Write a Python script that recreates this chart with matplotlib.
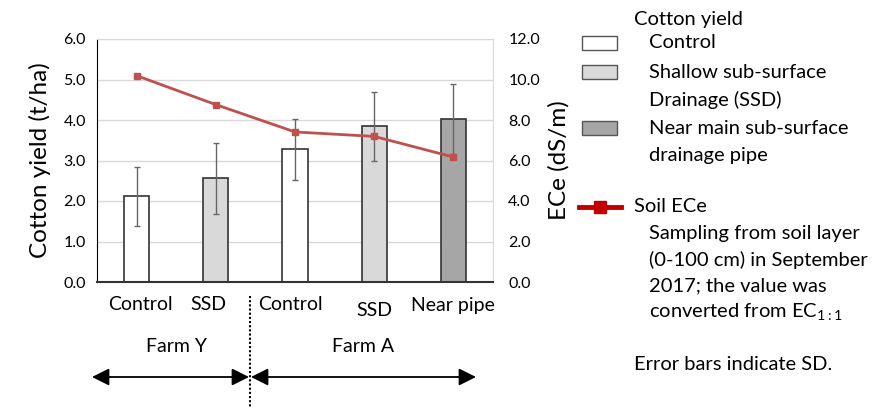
import numpy as np
import matplotlib
matplotlib.use('Agg')
import matplotlib.pyplot as plt
from matplotlib.patches import Rectangle, FancyArrowPatch
from matplotlib.lines import Line2D

plt.rcParams['font.family'] = ['Lato', 'DejaVu Sans']

# data
categories = ['Control', 'SSD', 'Control', 'SSD', 'Near pipe']
yield_mean = [2.12, 2.56, 3.28, 3.84, 4.02]
yield_sd = [0.73, 0.87, 0.75, 0.85, 0.87]
soil_ece = [10.19, 8.76, 7.41, 7.19, 6.17]
bar_colors = ['white', '#D9D9D9', 'white', '#D9D9D9', '#A6A6A6']

W, H = 885, 408
fig = plt.figure(figsize=(W / 100, H / 100), dpi=100)


def fx(x):
    return x / W


def fy(y):
    return 1 - y / H


ax = fig.add_axes([fx(97), fy(282), fx(493) - fx(97), fy(39) - fy(282)])
x = np.arange(len(categories))

ax.bar(x, yield_mean, width=0.32, color=bar_colors, edgecolor='#333333',
       linewidth=1.2, zorder=2)
ax.errorbar(x, yield_mean, yerr=yield_sd, fmt='none', ecolor='#666666',
            elinewidth=1, capsize=2.5, zorder=3)
ax.set_xlim(-0.5, 4.5)
ax.set_ylim(0, 6)
ax.set_yticks(np.arange(0, 6.1, 1))
ax.set_yticklabels([f'{v:.1f}' for v in np.arange(0, 6.1, 1)], fontsize=11.5)
ax.set_xticks([])
ax.grid(axis='y', color='#D9D9D9', linewidth=1, zorder=0)
ax.set_axisbelow(True)
ax.tick_params(axis='y', length=0, pad=8)
ax.spines['left'].set_color('black')
ax.spines['bottom'].set_color('#333333')
ax.spines['bottom'].set_linewidth(1.5)
ax.spines['top'].set_color('#D9D9D9')
ax.spines['right'].set_color('#D9D9D9')
ax.set_ylabel('Cotton yield (t/ha)', fontsize=17.5, labelpad=9)

ax2 = ax.twinx()
ax2.plot(x, soil_ece, color='#C0504D', lw=2, marker='s', ms=5, zorder=4)
ax2.set_ylim(0, 12)
ax2.set_yticks(np.arange(0, 12.1, 2))
ax2.set_yticklabels([f'{v:.1f}' for v in np.arange(0, 12.1, 2)], fontsize=11.5)
ax2.tick_params(axis='y', length=0, pad=11)
for s in ax2.spines.values():
    s.set_visible(False)
ax2.set_ylabel('ECe (dS/m)', fontsize=17.5, labelpad=6)

# category labels
label_offsets = [0.05, -0.1, -0.06, 0.0, -0.01]
label_y = [305, 305, 305, 310, 305]
for i, (c, dx) in enumerate(zip(categories, label_offsets)):
    fig.text(fx(97 + (i + 0.5 + dx) * 79.2), fy(label_y[i]), c,
             fontsize=14, ha='center', va='center')

# farm separators
fig.add_artist(Line2D([fx(250), fx(250)], [fy(296), fy(408)], color='black',
                      lw=1.5, ls=(0, (1, 1))))
fig.text(fx(177), fy(347), 'Farm Y', fontsize=14, ha='center', va='center')
fig.text(fx(363), fy(347), 'Farm A', fontsize=14, ha='center', va='center')
arrow = dict(arrowstyle='<|-|>', color='black', lw=1.3, mutation_scale=26,
             shrinkA=0, shrinkB=0)
fig.add_artist(FancyArrowPatch((fx(92), fy(377)), (fx(249), fy(377)),
                               transform=fig.transFigure, **arrow))
fig.add_artist(FancyArrowPatch((fx(251), fy(377)), (fx(476), fy(377)),
                               transform=fig.transFigure, **arrow))

# legend
fs = 14.5
fig.text(fx(634), fy(20), 'Cotton yield', fontsize=fs, va='center')
legend_rows = [(43, 'white', 'Control'),
               (72, '#D9D9D9', 'Shallow sub-surface'),
               (128, '#A6A6A6', 'Near main sub-surface')]
for y, col, lab in legend_rows:
    fig.add_artist(Rectangle((fx(582), fy(y + 7)), fx(35), fy(0) - fy(14),
                             transform=fig.transFigure, facecolor=col,
                             edgecolor='#555555', lw=1))
    fig.text(fx(649), fy(y), lab, fontsize=fs, va='center')
fig.text(fx(649), fy(100), 'Drainage (SSD)', fontsize=fs, va='center')
fig.text(fx(649), fy(156), 'drainage pipe', fontsize=fs, va='center')

fig.add_artist(Line2D([fx(579), fx(621)], [fy(207), fy(207)], color='#C00000',
                      lw=3.5, transform=fig.transFigure))
fig.add_artist(Line2D([fx(600)], [fy(207)], color='#C00000', marker='s', ms=9,
                      lw=0, transform=fig.transFigure))
fig.text(fx(634), fy(207), 'Soil ECe', fontsize=fs, va='center')
ece_notes = ['Sampling from soil layer', '(0-100 cm) in September',
             '2017; the value was', r'converted from EC$_{\mathregular{1:1}}$']
for i, t in enumerate(ece_notes):
    fig.text(fx(649), fy(233 + i * 26.5), t, fontsize=fs, va='center')
fig.text(fx(634), fy(365), 'Error bars indicate SD.', fontsize=fs, va='center')

fig.savefig('out.png', dpi=100)
